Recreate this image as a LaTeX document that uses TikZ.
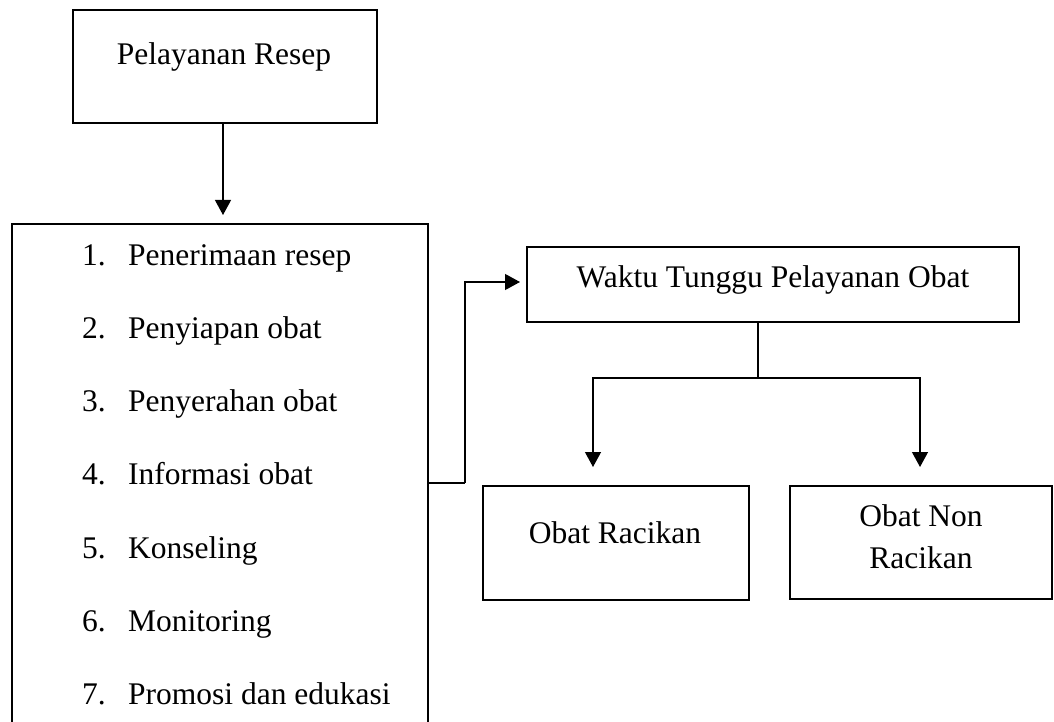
\documentclass[tikz,border=0pt]{standalone}
\usepackage{fontspec}
\setmainfont{Liberation Serif}
\usetikzlibrary{arrows.meta}

\begin{document}
\begin{tikzpicture}[x=1pt, y=-1pt, line join=miter,
  kotak/.style={draw, line width=2.5pt, inner sep=0pt, outer sep=0pt, anchor=north west},
  tulisan/.style={font=\fontsize{31.5}{42}\selectfont, inner sep=0pt},
  panah/.style={line width=1.2pt, -{Triangle[width=16pt,length=15pt]}},
  garis/.style={line width=1.2pt}]
  \useasboundingbox (0,0) rectangle (1054,722);
  \clip (0,0) rectangle (1054,722);

  % boxes
  \node[kotak, minimum width=304pt, minimum height=113pt] (resep) at (73,10) {};
  \node[kotak, minimum width=416pt, minimum height=540pt] (daftar) at (12,224) {};
  \node[kotak, minimum width=492pt, minimum height=75pt] (waktu) at (527,247) {};
  \node[kotak, minimum width=266pt, minimum height=114pt] (racikan) at (483,486) {};
  \node[kotak, minimum width=262pt, minimum height=113pt] (nonracikan) at (790,486) {};

  % texts
  \node[tulisan, anchor=base] (resepT) at (224,65) {Pelayanan Resep};
  \node[tulisan, anchor=base] (waktuT) at (773,287) {Waktu Tunggu Pelayanan Obat};
  \node[tulisan, anchor=base] (racikanT) at (615,543) {Obat Racikan};
  \node[tulisan, anchor=base] (nonT1) at (921,526) {Obat Non};
  \node[tulisan, anchor=base] (nonT2) at (921,568) {Racikan};

  \foreach \i/\isi in {1/Penerimaan resep, 2/Penyiapan obat, 3/Penyerahan obat,
      4/Informasi obat, 5/Konseling, 6/Monitoring, 7/Promosi dan edukasi} {
    \pgfmathsetmacro\yy{265+73.3*(\i-1)}
    \node[tulisan, anchor=base west] (no\i) at (82,\yy) {\i.};
    \node[tulisan, anchor=base west] (item\i) at (128,\yy) {\isi};
  }

  % connectors
  \coordinate (belok) at (465,483);
  \coordinate (cabang) at (758,378);
  \coordinate (kiri) at (593,467);
  \coordinate (kanan) at (920,467);

  \draw[panah] (resep.south -| 223,0) -- (223,215);
  \draw[garis] (daftar.east |- belok) -- (belok);
  \draw[panah] (belok) |- (520,282);
  \draw[garis] (waktu.south -| cabang) -- (cabang);
  \draw[panah] (cabang) -| (kiri);
  \draw[panah] (cabang) -| (kanan);
\end{tikzpicture}
\end{document}
